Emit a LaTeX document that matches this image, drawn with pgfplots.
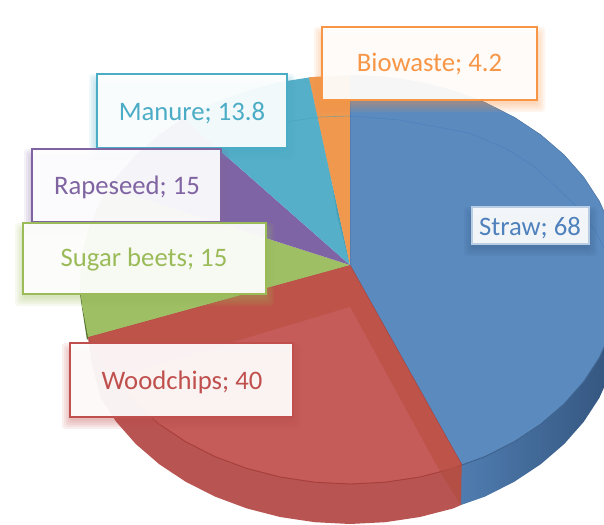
\documentclass[border=0pt]{standalone}
\usepackage{fontspec}
\setmainfont{Carlito}
\usepackage{pgfplots}
\pgfplotsset{compat=1.18}
\definecolor{cBlue}{HTML}{5B8ABF}
\definecolor{cBlueL}{HTML}{4F7CB0}
\definecolor{cBlueM}{HTML}{4F78A8}
\definecolor{cBlueD}{HTML}{34567F}
\definecolor{cBlueLine}{HTML}{5083BD}
\definecolor{cRed}{HTML}{C55C5A}
\definecolor{cRedB}{HTML}{BE5349}
\definecolor{cRedS}{HTML}{B85553}
\definecolor{cRedD}{HTML}{A6403C}
\definecolor{cGreen}{HTML}{9FBF64}
\definecolor{cGreenD}{HTML}{55752F}
\definecolor{cPurple}{HTML}{7F64A5}
\definecolor{cTeal}{HTML}{55AFC9}
\definecolor{cTealD}{HTML}{46A0B8}
\definecolor{cOrange}{HTML}{F0984E}
\definecolor{tBlue}{HTML}{4F81BD}
\definecolor{tRed}{HTML}{C0504D}
\definecolor{tGreen}{HTML}{9BBB59}
\definecolor{tPurple}{HTML}{8064A2}
\definecolor{tTeal}{HTML}{4BACC6}
\definecolor{tOrange}{HTML}{F79646}
\newcommand{\shlayer}[6]{%
  \fill[#5, opacity=0.09, rounded corners=3pt]
      (axis cs:#1-8+#6,#2+#6) rectangle (axis cs:#3+8-#6,#4+12-#6);}
\newcommand{\softshadow}[5]{%
  \shlayer{#1}{#2}{#3}{#4}{#5}{0}\shlayer{#1}{#2}{#3}{#4}{#5}{2}\shlayer{#1}{#2}{#3}{#4}{#5}{4}%
  \shlayer{#1}{#2}{#3}{#4}{#5}{6}\shlayer{#1}{#2}{#3}{#4}{#5}{8}}
\newcommand{\labelbox}[9]{% x1 y1 x2 y2 colour width textx baseline text
  \draw[#5, line width=#6pt, fill=white, fill opacity=0.93] (axis cs:#1,#2) rectangle (axis cs:#3,#4);
  \node[anchor=base, inner sep=0pt, text=#5, font=\fontsize{26.7}{30}\selectfont] at (axis cs:#7,#8) {#9};}
\begin{document}
\begin{tikzpicture}
\begin{axis}[
  at={(0pt,0pt)}, anchor=south west,
  hide axis, scale only axis, width=604pt, height=524pt,
  xmin=0, xmax=604, ymin=0, ymax=524, y dir=reverse, clip=true]
% sides
\addplot[draw=none, left color=cBlueL, middle color=cBlueM, right color=cBlueD] coordinates {
 (462,465) (485,456.6) (514.4,441.7) (540.9,424.1) (564.2,404) (583.8,381.75) (599.4,357.8) (610.8,332.4)
 (610.8,372.4) (599.4,397.8) (583.8,421.75) (564.2,444) (540.9,464.1) (514.4,481.7) (485,496.6) (461,505)} --cycle;
\addplot[draw=none, fill=cRedS] coordinates {
 (462,465) (461,505) (453.3,508.4) (419.9,517) (385.2,522.2) (350,524) (314.8,522.2) (280.1,517) (246.7,508.4)
 (215,496.6) (185.6,481.7) (159.1,464.1) (135.8,444) (116.2,421.75) (100.6,397.8) (92,365) (88,338)
 (159.1,424.1) (350,484)} --cycle;
\addplot[draw=none, fill=cGreenD] coordinates {(80,279.5) (80,295) (87,340) (89,337) (82.3,306.2)} --cycle;
% top slices
\addplot[draw=cBlueD!50!cBlue, line width=0.5pt, fill=cBlue] coordinates {
 (350,265) (350,75) (385.2,76.8) (419.9,82) (453.3,90.6) (485,102.4) (514.4,117.3) (540.9,134.9) (564.2,155)
 (583.8,177.25) (599.4,201.2) (610.8,226.6) (617.7,252.8) (620,279.5) (617.7,306.2) (610.8,332.4) (599.4,357.8)
 (583.8,381.75) (564.2,404) (540.9,424.1) (514.4,441.7) (485,456.6) (462,465)} --cycle;
\addplot[draw=cRedD!80!cRedB, line width=0.5pt, fill=cRedB] coordinates {
 (350,265) (462,465) (453.3,468.4) (419.9,477) (385.2,482.2) (350,484) (314.8,482.2) (280.1,477) (246.7,468.4)
 (215,456.6) (185.6,441.7) (159.1,424.1) (135.8,404) (116.2,381.75) (100.6,357.8) (88,337)} --cycle;
\addplot[draw=none, fill=cRed] coordinates {
 (350,307) (440,472) (419.9,477) (385.2,482.2) (350,484) (314.8,482.2) (280.1,477) (246.7,468.4)
 (215,456.6) (185.6,441.7) (159.1,424.1) (135.8,404) (120,380) (120,376) (240,340)} --cycle;
\addplot[draw=none, fill=cGreen] coordinates {
 (350,265) (88,337) (82.3,306.2) (80,279.5) (82.3,252.8) (89.2,226.6) (100.6,201.2) (108,187.6)} --cycle;
\addplot[draw=none, fill=cPurple] coordinates {
 (350,265) (108,187.6) (116.2,177.25) (135.8,155) (159.1,134.9) (183,118)} --cycle;
\addplot[draw=none, fill=cTeal] coordinates {
 (350,265) (183,118) (185.6,117.3) (215,102.4) (246.7,90.6) (280.1,82) (309,77.5)} --cycle;
\addplot[draw=none, fill=cTealD] coordinates {(309,77.5) (316,77) (337,215) (350,265)} --cycle;
\addplot[draw=none, fill=cOrange] coordinates {(350,265) (309,77.5) (314.8,76.8) (350,75)} --cycle;
% lines
\addplot[cBlueM!70!cBlue, line width=0.5pt] coordinates {(350,75) (350,265)};
\addplot[cBlueLine, line width=0.8pt] coordinates {
 (350,116) (400,120) (469,133) (505,148) (535,167) (575,205) (595,230) (606,252)};
\addplot[cTealD, line width=0.6pt, opacity=0.6] coordinates {(285,122) (320,117) (350,116)};
\addplot[cRedD, line width=0.9pt] coordinates {
 (462,465) (453.3,468.4) (419.9,477) (385.2,482.2) (350,484) (314.8,482.2) (280.1,477) (246.7,468.4)
 (215,456.6) (185.6,441.7) (159.1,424.1) (135.8,404) (120,384)};
\addplot[cBlueL!80!black, line width=0.9pt] coordinates {
 (462,465) (485,456.6) (514.4,441.7) (540.9,424.1) (564.2,404) (583.8,381.75) (599.4,357.8) (610.8,332.4)};
\addplot[draw=none, fill=cRedB!95!black] coordinates {(440,472) (462,465) (461,505)} --cycle;
\addplot[cBlueM, line width=0.5pt] coordinates {(462,465) (461,505)};
% labels
\softshadow{322}{27}{537}{100}{tOrange}
\softshadow{97}{74}{287}{148}{tTeal}
\softshadow{32}{149}{221}{222}{tPurple}
\softshadow{23}{223}{266}{294}{tGreen}
\softshadow{70}{343}{293}{417}{tRed}
\softshadow{472}{207}{589}{244}{tBlue!70!black}
\labelbox{322}{27}{537}{100}{tOrange}{2.8}{429.5}{72}{Biowaste; 4.2}
\labelbox{97}{74}{287}{148}{tTeal}{2.8}{192}{120}{Manure; 13.8}
\labelbox{32}{149}{221}{222}{tPurple}{2.8}{127}{194}{Rapeseed; 15}
\labelbox{23}{223}{266}{294}{tGreen}{2.8}{144}{266}{Sugar beets; 15}
\labelbox{70}{343}{293}{417}{tRed}{2.8}{182}{389}{Woodchips; 40}
\labelbox{472}{207}{589}{244}{tBlue!40!white}{1.2}{530}{235}{\textcolor{tBlue}{Straw; 68}}
\end{axis}
\pgfresetboundingbox
\path[use as bounding box] (0pt,0pt) rectangle (604pt,524pt);
\end{tikzpicture}
\end{document}
